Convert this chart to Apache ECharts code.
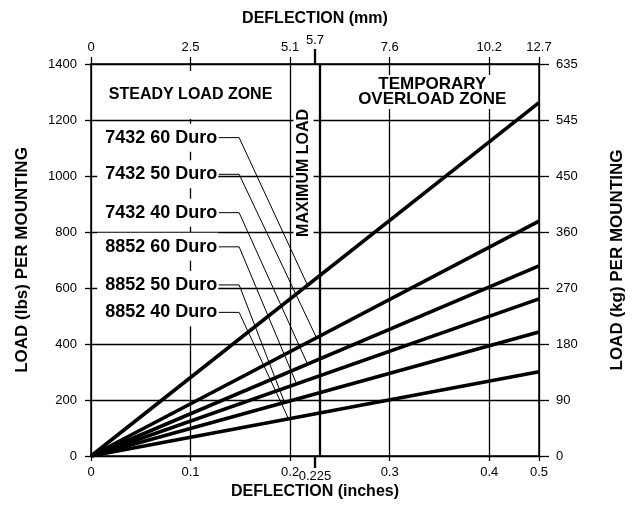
<!DOCTYPE html>
<html><head><meta charset="utf-8">
<script src="https://cdn.jsdelivr.net/npm/echarts@6/dist/echarts.min.js"></script>
<style>html,body{margin:0;padding:0;background:#fff}#c{width:634px;height:516px}</style>
</head><body><div id="c"></div>
<script>
// ---- data ----
const seriesNames = ['7432 60 Duro','7432 50 Duro','7432 40 Duro','8852 60 Duro','8852 50 Duro','8852 40 Duro'];
const endDeflectionIn = 0.5;
const loadAtEndLbs = [1262, 839, 679, 561, 443, 301];
const inchTicks = [0, 0.1, 0.2, 0.225, 0.3, 0.4, 0.5];
const mmTickLabels = ['0','2.5','5.1','5.7','7.6','10.2','12.7'];
const lbsTicks = [0, 200, 400, 600, 800, 1000, 1200, 1400];
const kgTickLabels = ['0','90','180','270','360','450','545','635'];
const maxLoadIn = 0.225;
const calloutLoadLbs = [1137, 1006, 869, 747, 611, 513];
const calloutAnchorIn = 0.1283;
const calloutKneeIn = 0.1488;
const calloutEndIn = [0.2175, 0.2265, 0.2175, 0.2065, 0.1944, 0.1984];
const zoneTexts = [
  {text: 'STEADY LOAD ZONE', x: 0.1, y: 1289},
  {text: 'TEMPORARY\nOVERLOAD ZONE', x: 0.3428, y: 1300},
  {text: 'MAXIMUM LOAD', x: 0.2135, y: 1011}
];

// the reference's inch scale is compressed by half between 0.4 and 0.5
const compressFrom = 0.4, compressFactor = 0.5;
const xpos = v => v <= compressFrom ? v : compressFrom + (v - compressFrom) * compressFactor;
const xinv = p => p <= compressFrom + 1e-9 ? p : compressFrom + (p - compressFrom) / compressFactor;
const xMax = xpos(endDeflectionIn);

const FONT = "'Liberation Sans', Arial, Helvetica, sans-serif";
const INK = '#000';
const gridLine = {color: INK, width: 1.3};
const axisLineStyle = {color: INK, width: 1.5};
const fmtIn = v => String(Math.round(xinv(v) * 1000) / 1000);
const fmtMm = v => {
  const inch = Math.round(xinv(v) * 1000) / 1000;
  const i = inchTicks.findIndex(t => Math.abs(t - inch) < 1e-6);
  return i >= 0 ? mmTickLabels[i] : '';
};
const hiddenMark = {color: 'rgba(0,0,0,0)', opacity: 1};

const series = [];
seriesNames.forEach((n, i) => {
  series.push({
    type: 'line', name: n, symbol: 'none', silent: true, z: 3,
    lineStyle: {color: '#000', width: 3.6},
    data: [[xpos(0), 0], [xpos(endDeflectionIn), loadAtEndLbs[i]]],
    markLine: i === 0 ? {
      symbol: ['none', 'none'], silent: true, label: {show: false},
      lineStyle: {color: '#000', width: 2.3, type: 'solid'},
      data: [{xAxis: xpos(maxLoadIn)}]
    } : undefined
  });
  const endX = xpos(calloutEndIn[i]);
  const endY = loadAtEndLbs[i] * endX / xMax;
  series.push({
    type: 'line', symbol: 'none', silent: true, z: 6,
    lineStyle: {color: '#000', width: 1},
    data: [[calloutAnchorIn, calloutLoadLbs[i]], [calloutKneeIn, calloutLoadLbs[i]], [endX, endY]]
  });
});
series.push({
  type: 'scatter', symbolSize: 1, silent: true, z: 5,
  itemStyle: hiddenMark,
  label: {show: true, position: 'left', distance: 0, formatter: '{b}',
    fontFamily: FONT, fontWeight: 'bold', fontSize: 18, color: INK, opacity: 1,
    backgroundColor: '#fff', padding: [5, 1, 5, 8]},
  data: seriesNames.map((n, i) => ({name: n, value: [calloutAnchorIn, calloutLoadLbs[i]]}))
});
series.push({
  type: 'scatter', symbolSize: 1, silent: true, z: 5,
  itemStyle: hiddenMark,
  data: [
    {name: zoneTexts[0].text, value: [zoneTexts[0].x, zoneTexts[0].y],
     label: {show: true, position: 'inside', formatter: '{b}', fontFamily: FONT, fontWeight: 'bold',
       fontSize: 16, color: INK, opacity: 1, backgroundColor: '#fff', padding: [26, 8, 6, 8]}},
    {name: zoneTexts[1].text, value: [zoneTexts[1].x, zoneTexts[1].y],
     label: {show: true, position: 'inside', formatter: '{b}', fontFamily: FONT, fontWeight: 'bold',
       fontSize: 17, lineHeight: 15, align: 'center', color: INK, opacity: 1, backgroundColor: '#fff', padding: [2, 4, 2, 4]}},
    {name: zoneTexts[2].text, value: [zoneTexts[2].x, zoneTexts[2].y],
     label: {show: true, position: 'inside', rotate: 90, formatter: '{b}', fontFamily: FONT, fontWeight: 'bold',
       fontSize: 16, lineHeight: 16, color: INK, opacity: 1, backgroundColor: '#fff', padding: [2, 6, 2, 6]}}
  ]
});

const chart = echarts.init(document.getElementById('c'), null, {renderer: 'canvas'});
chart.setOption({
  animation: false,
  backgroundColor: '#fff',
  grid: {left: 91, right: 94, top: 64, bottom: 60, containLabel: false},
  xAxis: [
    {type: 'value', position: 'bottom', min: 0, max: xMax, interval: 0.1,
     axisLine: {show: true, onZero: false, lineStyle: axisLineStyle},
     axisTick: {show: true, length: 5, lineStyle: {color: INK, width: 1.3}},
     splitLine: {show: true, lineStyle: gridLine},
     axisLabel: {formatter: fmtIn, margin: 10, fontFamily: FONT, fontSize: 13, color: INK},
     name: 'DEFLECTION (inches)', nameLocation: 'middle', nameGap: 28,
     nameTextStyle: {fontFamily: FONT, fontWeight: 'bold', fontSize: 16, color: INK}},
    {type: 'value', position: 'top', min: 0, max: xMax, interval: 0.1,
     axisLine: {show: true, onZero: false, lineStyle: axisLineStyle},
     axisTick: {show: true, length: 7, lineStyle: {color: INK, width: 1.3}},
     splitLine: {show: false},
     axisLabel: {formatter: fmtMm, margin: 10, fontFamily: FONT, fontSize: 13, color: INK},
     name: 'DEFLECTION (mm)', nameLocation: 'middle', nameGap: 37,
     nameTextStyle: {fontFamily: FONT, fontWeight: 'bold', fontSize: 16, color: INK}},
    {type: 'value', position: 'bottom', min: 0, max: xMax,
     axisLine: {show: false, onZero: false},
     axisTick: {show: true, length: 12, customValues: [xpos(maxLoadIn)], lineStyle: {color: '#000', width: 2.3}},
     splitLine: {show: false},
     axisLabel: {customValues: [xpos(maxLoadIn)], formatter: fmtIn, margin: 14, fontFamily: FONT, fontSize: 13, color: INK}},
    {type: 'value', position: 'top', min: 0, max: xMax,
     axisLine: {show: false, onZero: false},
     axisTick: {show: true, length: 15, customValues: [xpos(maxLoadIn)], lineStyle: {color: '#000', width: 2.3}},
     splitLine: {show: false},
     axisLabel: {customValues: [xpos(maxLoadIn)], formatter: fmtMm, margin: 17, fontFamily: FONT, fontSize: 13, color: INK}}
  ],
  yAxis: [
    {type: 'value', position: 'left', min: lbsTicks[0], max: lbsTicks[lbsTicks.length - 1], interval: 200,
     axisLine: {show: true, onZero: false, lineStyle: axisLineStyle},
     axisTick: {show: true, length: 6, lineStyle: {color: INK, width: 1.3}},
     splitLine: {show: true, lineStyle: gridLine},
     axisLabel: {margin: 14, fontFamily: FONT, fontSize: 13, color: INK, formatter: v => String(v)},
     name: 'LOAD (lbs) PER MOUNTING', nameLocation: 'middle', nameGap: 60,
     nameTextStyle: {fontFamily: FONT, fontWeight: 'bold', fontSize: 17, color: INK}},
    {type: 'value', position: 'right', min: lbsTicks[0], max: lbsTicks[lbsTicks.length - 1], interval: 200,
     axisLine: {show: true, onZero: false, lineStyle: axisLineStyle},
     axisTick: {show: true, length: 10, lineStyle: {color: INK, width: 1.3}},
     splitLine: {show: false},
     axisLabel: {margin: 17, fontFamily: FONT, fontSize: 13, color: INK,
       formatter: v => kgTickLabels[lbsTicks.indexOf(v)]},
     name: 'LOAD (kg) PER MOUNTING', nameLocation: 'middle', nameGap: 70,
     nameTextStyle: {fontFamily: FONT, fontWeight: 'bold', fontSize: 17, color: INK}}
  ],
  series: series
});
</script>
</body></html>
